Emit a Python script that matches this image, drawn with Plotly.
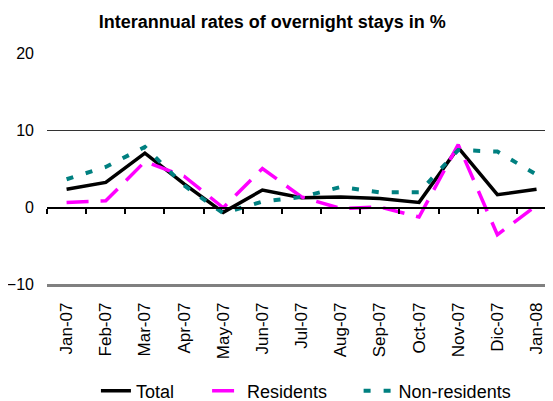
import plotly.graph_objects as go

months = ["Jan-07", "Feb-07", "Mar-07", "Apr-07", "May-07", "Jun-07", "Jul-07",
          "Aug-07", "Sep-07", "Oct-07", "Nov-07", "Dic-07", "Jan-08"]
total = [2.3, 3.2, 7.0, 3.0, -0.7, 2.2, 1.2, 1.3, 1.1, 0.6, 7.7, 1.6, 2.3]
residents = [0.6, 0.8, 5.9, 4.0, -0.1, 5.0, 1.3, -0.2, 0.0, -1.3, 8.1, -3.6, 0.2]
non_residents = [3.6, 5.2, 7.8, 2.8, -0.8, 0.7, 1.3, 2.6, 1.9, 1.9, 7.4, 7.2, 4.2]
y_ticks = [-10, 0, 10, 20]

FONT = "Liberation Sans, Arial, sans-serif"
LEG_FONT = dict(size=18, family=FONT, color="black")

fig = go.Figure()
# empty trace on the zero-line tick axis pair (x2 / y2), added first so it sits below
fig.add_trace(go.Scatter(x=[], y=[], xaxis="x2", yaxis="y2",
                         showlegend=False, hoverinfo="skip"))
fig.add_trace(go.Scatter(x=months, y=total, mode="lines", name="Total",
                         line=dict(color="black", width=3.5), legend="legend"))
fig.add_trace(go.Scatter(x=months, y=residents, mode="lines", name="Residents",
                         line=dict(color="#FF00FF", width=3.5, dash="22px,12px"),
                         legend="legend2"))
fig.add_trace(go.Scatter(x=months, y=non_residents, mode="lines", name="Non-residents",
                         line=dict(color="#008080", width=4, dash="7px,13px"),
                         legend="legend3"))

leg_common = dict(orientation="h", xanchor="left", xref="container", yref="container",
                  y=0.045, yanchor="middle", font=LEG_FONT, bgcolor="rgba(0,0,0,0)")

fig.update_layout(
    width=553, height=401,
    margin=dict(l=39, r=8, t=45, b=125),
    paper_bgcolor="white", plot_bgcolor="rgba(0,0,0,0)",
    font=dict(family=FONT, color="black", size=14),
    title=dict(text="<b>Interannual rates of overnight stays in %</b>",
               x=0.478, xanchor="center", y=0.967, yanchor="middle",
               font=dict(size=18, family=FONT)),
    showlegend=True,
    legend=dict(x=0.159, **leg_common),
    legend2=dict(x=0.360, **leg_common),
    legend3=dict(x=0.634, **leg_common),
    xaxis=dict(type="category", categoryorder="array", categoryarray=months,
               range=[-0.5, 12.42], tickangle=-90, ticks="", showgrid=False,
               showline=True, linecolor="#808080", linewidth=2.5, automargin=False,
               tickfont=dict(size=17, family=FONT), ticklabelstandoff=9),
    xaxis2=dict(anchor="y2", overlaying="x", side="bottom", type="linear",
                range=[-0.5, 12.42], tick0=-0.5, dtick=1, ticks="outside",
                ticklen=5, tickcolor="black", tickwidth=1.5, showticklabels=False,
                showgrid=False, showline=True, linecolor="black", linewidth=1.5,
                zeroline=False, automargin=False),
    yaxis=dict(range=[-10, 20], tickvals=y_ticks, showgrid=True, automargin=False,
               gridcolor="#333333", gridwidth=1, zeroline=False,
               ticks="", tickfont=dict(size=16, family=FONT), ticklabelstandoff=12),
    yaxis2=dict(domain=[1/3, 1], anchor="x2", range=[0, 1], visible=False,
                showgrid=False, zeroline=False),
)

fig.write_html("out.html")
